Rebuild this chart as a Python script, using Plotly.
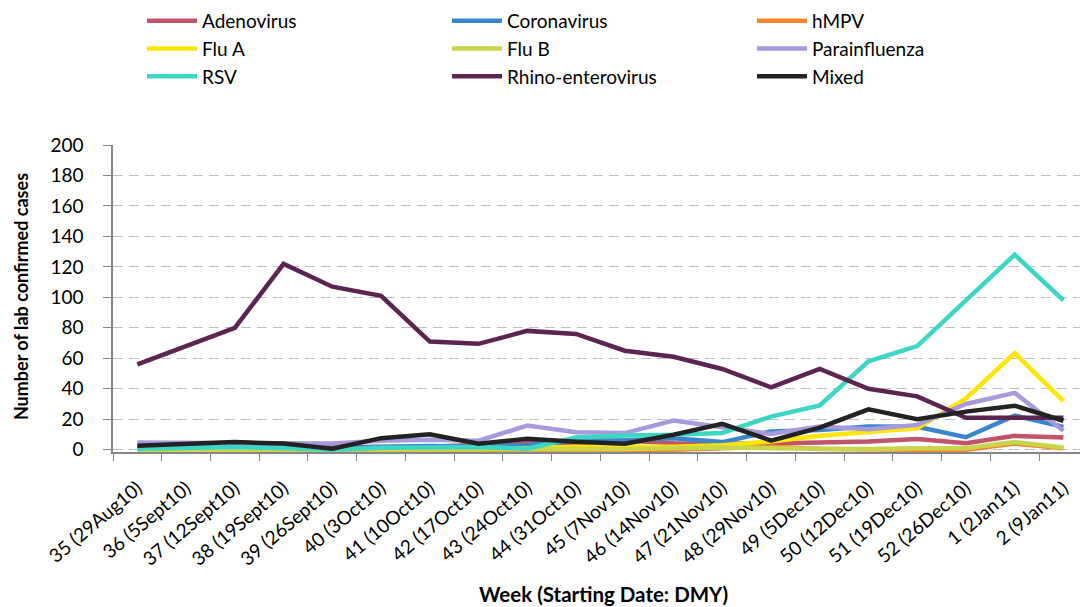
import plotly.graph_objects as go

weeks = ["35 (29Aug10)", "36 (5Sept10)", "37 (12Sept10)", "38 (19Sept10)", "39 (26Sept10)",
         "40 (3Oct10)", "41 (10Oct10)", "42 (17Oct10)", "43 (24Oct10)", "44 (31Oct10)",
         "45 (7Nov10)", "46 (14Nov10)", "47 (21Nov10)", "48 (29Nov10)", "49 (5Dec10)",
         "50 (12Dec10)", "51 (19Dec10)", "52 (26Dec10)", "1 (2Jan11)", "2 (9Jan11)"]

adenovirus = [1.5, 1.5, 2, 2, 1.5, 2, 2, 3.3, 4.3, 4.3, 6, 4.3, 4, 4, 4.8, 5.4, 7, 4.3, 9.1, 8]
coronavirus = [1.5, 2, 2, 2, 1, 2, 2.5, 2, 3, 6, 6, 7.6, 5, 12, 13, 15.2, 15, 8.2, 22.4, 15]
hmpv = [0, 0, 0, 0, 0, 0, 0, 0, 0, 0, 0, 0, 1, 2, 0.5, 0, 0, 0, 4, 1]
flu_a = [0, 0, 0, 0, 0, 0, 0, 0.5, 1, 2, 2, 2, 3, 5.4, 9.1, 11.5, 14.1, 33.7, 63.4, 31.9]
flu_b = [0, 0, 0, 0, 0, 0, 0, 0.5, 0.5, 0.5, 0.5, 1, 1.5, 1, 0.5, 0.5, 1, 1, 5, 1.5]
parainfluenza = [4.8, 4.6, 4.4, 4, 4, 5.9, 6.5, 5.9, 15.9, 11.5, 10.9, 19.1, 14.8, 10.4, 15.2, 13.5, 16.3, 30, 37.3, 12.4]
rsv = [0.7, 1.3, 1.7, 1, 0, 1.3, 1.5, 1.7, 0.7, 8, 9.4, 9.8, 11, 21.7, 29, 58, 68, 98, 128, 98]
rhino = [56, 68, 80, 122, 107, 101, 71, 69.5, 78, 76, 65, 61, 53, 41, 53, 40, 35, 21, 21, 21]
mixed = [2.6, 4, 5, 4, 0.6, 7.6, 10.2, 3.9, 7.2, 5.2, 3.9, 9.8, 17, 6, 14.5, 26.5, 20, 25, 28.9, 19]

series = [
    ("Adenovirus", adenovirus, "#C0546A"),
    ("Coronavirus", coronavirus, "#3A86CC"),
    ("hMPV", hmpv, "#F5862E"),
    ("Flu A", flu_a, "#FFE600"),
    ("Flu B", flu_b, "#C9D64B"),
    ("Parainfluenza", parainfluenza, "#A899DC"),
    ("RSV", rsv, "#3CD6C4"),
    ("Rhino-enterovirus", rhino, "#5C2450"),
    ("Mixed", mixed, "#222222"),
]

fig = go.Figure()
for name, vals, color in series:
    fig.add_trace(go.Scatter(x=weeks, y=vals, name=name, mode="lines",
                             line=dict(color=color, width=4.5)))

FONT = "Lato"
fig.update_layout(
    width=1080, height=607,
    margin=dict(l=113, r=0, t=145, b=155, autoexpand=False),
    paper_bgcolor="white", plot_bgcolor="white",
    font=dict(family=FONT, size=19, color="#000000"),
    showlegend=True,
    legend=dict(orientation="h", xref="container", yref="container",
                x=142 / 1080, y=1 - 2 / 607, xanchor="left", yanchor="top",
                font=dict(family=FONT, size=19, color="#000000"),
                entrywidth=240, entrywidthmode="pixels", itemwidth=50,
                bgcolor="rgba(0,0,0,0)"),
    xaxis=dict(type="category", range=[-0.5, 19.34], tickson="boundaries",
               automargin=False,
               ticks="outside", ticklen=7, tickcolor="#868686", tickwidth=1.3,
               showline=True, linecolor="#868686", linewidth=1.5,
               showgrid=False, tickangle=-40, ticklabelstandoff=16,
               tickfont=dict(family=FONT, size=19, color="#000000")),
    yaxis=dict(range=[-1.5, 200], tickvals=list(range(0, 201, 20)),
               automargin=False,
               ticks="outside", ticklen=8, tickcolor="#868686", tickwidth=1.3,
               showline=True, linecolor="#868686", linewidth=1.5,
               showgrid=True, gridcolor="#BFBFBF", gridwidth=1.3, griddash="10px,6px",
               zeroline=False, ticklabelstandoff=16,
               tickfont=dict(family=FONT, size=19, color="#000000")),
    annotations=[
        dict(text="<b>Week (Starting Date: DMY)</b>", xref="paper", yref="paper",
             x=0.507, y=-0.462, xanchor="center", yanchor="middle", showarrow=False,
             font=dict(family=FONT, size=20.5, color="#000000")),
        dict(text="<b>Number of lab confirmed cases</b>", xref="paper", yref="paper",
             x=-0.095, y=0.505, xanchor="center", yanchor="middle", showarrow=False,
             textangle=-90, font=dict(family=FONT, size=18, color="#000000")),
    ],
)

fig.write_html("out.html", config={"displayModeBar": False},
               post_script="document.body.style.margin='0';")
